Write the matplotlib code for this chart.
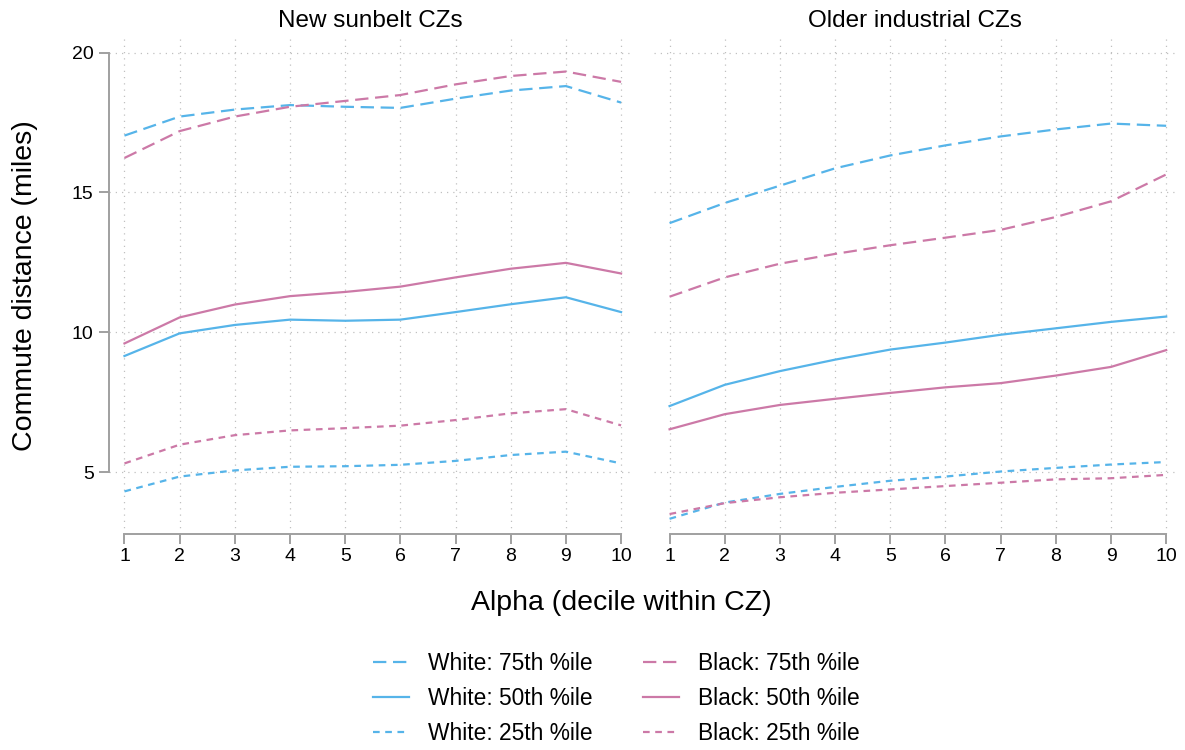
import numpy as np
import matplotlib
matplotlib.use('Agg')
import matplotlib.pyplot as plt

plt.rcParams['font.family'] = ['Liberation Sans', 'DejaVu Sans']

# Dados (decis 1..10)
deciles = np.arange(1, 11)
panels = ['New sunbelt CZs', 'Older industrial CZs']

sunbelt_white_75 = [17.03, 17.71, 17.96, 18.12, 18.06, 18.02, 18.35, 18.64, 18.80, 18.21]
sunbelt_white_50 = [9.15, 9.96, 10.26, 10.45, 10.41, 10.45, 10.72, 11.00, 11.25, 10.72]
sunbelt_white_25 = [4.31, 4.84, 5.06, 5.19, 5.21, 5.26, 5.40, 5.61, 5.73, 5.31]
sunbelt_black_75 = [16.23, 17.19, 17.71, 18.06, 18.27, 18.48, 18.86, 19.16, 19.32, 18.95]
sunbelt_black_50 = [9.60, 10.53, 10.99, 11.29, 11.44, 11.63, 11.96, 12.27, 12.48, 12.10]
sunbelt_black_25 = [5.31, 5.98, 6.32, 6.49, 6.57, 6.66, 6.86, 7.10, 7.25, 6.67]

industrial_white_75 = [13.90, 14.62, 15.24, 15.86, 16.32, 16.68, 17.00, 17.25, 17.46, 17.38]
industrial_white_50 = [7.36, 8.12, 8.61, 9.02, 9.38, 9.63, 9.91, 10.14, 10.37, 10.56]
industrial_white_25 = [3.33, 3.91, 4.22, 4.47, 4.69, 4.84, 5.02, 5.15, 5.27, 5.36]
industrial_black_75 = [11.27, 11.96, 12.45, 12.80, 13.11, 13.38, 13.66, 14.12, 14.68, 15.64]
industrial_black_50 = [6.53, 7.07, 7.40, 7.62, 7.83, 8.03, 8.18, 8.45, 8.76, 9.36]
industrial_black_25 = [3.50, 3.89, 4.10, 4.26, 4.38, 4.50, 4.62, 4.74, 4.78, 4.90]

series_labels = ['White: 75th %ile', 'White: 50th %ile', 'White: 25th %ile',
                 'Black: 75th %ile', 'Black: 50th %ile', 'Black: 25th %ile']

dados = [
    [sunbelt_white_75, sunbelt_white_50, sunbelt_white_25,
     sunbelt_black_75, sunbelt_black_50, sunbelt_black_25],
    [industrial_white_75, industrial_white_50, industrial_white_25,
     industrial_black_75, industrial_black_50, industrial_black_25],
]

azul = '#56B4E9'
rosa = '#CC79A7'
cores = [azul, azul, azul, rosa, rosa, rosa]
estilos = [(0, (6, 3)), '-', (0, (3, 2.5))] * 2
cinza = '#a0a0a0'

fig = plt.figure(figsize=(11.85, 7.5), dpi=100)
ax1 = fig.add_axes([0.092, 0.2885, 0.4405, 0.662])
ax2 = fig.add_axes([0.552, 0.2885, 0.4405, 0.662])

for ax, titulo, series in zip([ax1, ax2], panels, dados):
    for vals, cor, ls, lab in zip(series, cores, estilos, series_labels):
        ax.plot(deciles, vals, color=cor, linestyle=ls, linewidth=1.6, label=lab)
    ax.set_xlim(0.72, 10.18)
    ax.set_ylim(2.8, 20.55)
    ax.set_xticks(deciles)
    ax.set_yticks([5, 10, 15, 20])
    ax.grid(True, color='#c0c0c0', linestyle=(0, (1, 4)), linewidth=0.9)
    ax.set_axisbelow(True)
    ax.set_title(titulo, fontsize=17.5, pad=7)
    for s in ['top', 'right']:
        ax.spines[s].set_visible(False)
    ax.spines['bottom'].set_bounds(1, 10)
    ax.spines['bottom'].set_color(cinza)
    ax.spines['bottom'].set_linewidth(1.4)
    ax.tick_params(axis='both', colors=cinza, labelcolor='black', labelsize=14,
                   length=7, width=1.4)
    ax.tick_params(axis='x', pad=3)
    ax.tick_params(axis='y', pad=4)

ax1.spines['left'].set_bounds(5, 20)
ax1.spines['left'].set_color(cinza)
ax1.spines['left'].set_linewidth(1.4)
ax2.spines['left'].set_visible(False)
ax2.tick_params(axis='y', left=False, labelleft=False)

fig.text(0.021, 0.619, 'Commute distance (miles)', rotation=90, ha='center', va='center',
         fontsize=20.5)
fig.text(0.524, 0.196, 'Alpha (decile within CZ)', ha='center', va='center', fontsize=20.5)

handles, labels = ax1.get_legend_handles_labels()
fig.legend(handles, labels, loc='center', bbox_to_anchor=(0.52, 0.069), ncol=2,
           frameon=False, fontsize=16.4, handlelength=1.6, handletextpad=0.82,
           columnspacing=2.2, labelspacing=0.52)

fig.savefig('out.png', dpi=100)
